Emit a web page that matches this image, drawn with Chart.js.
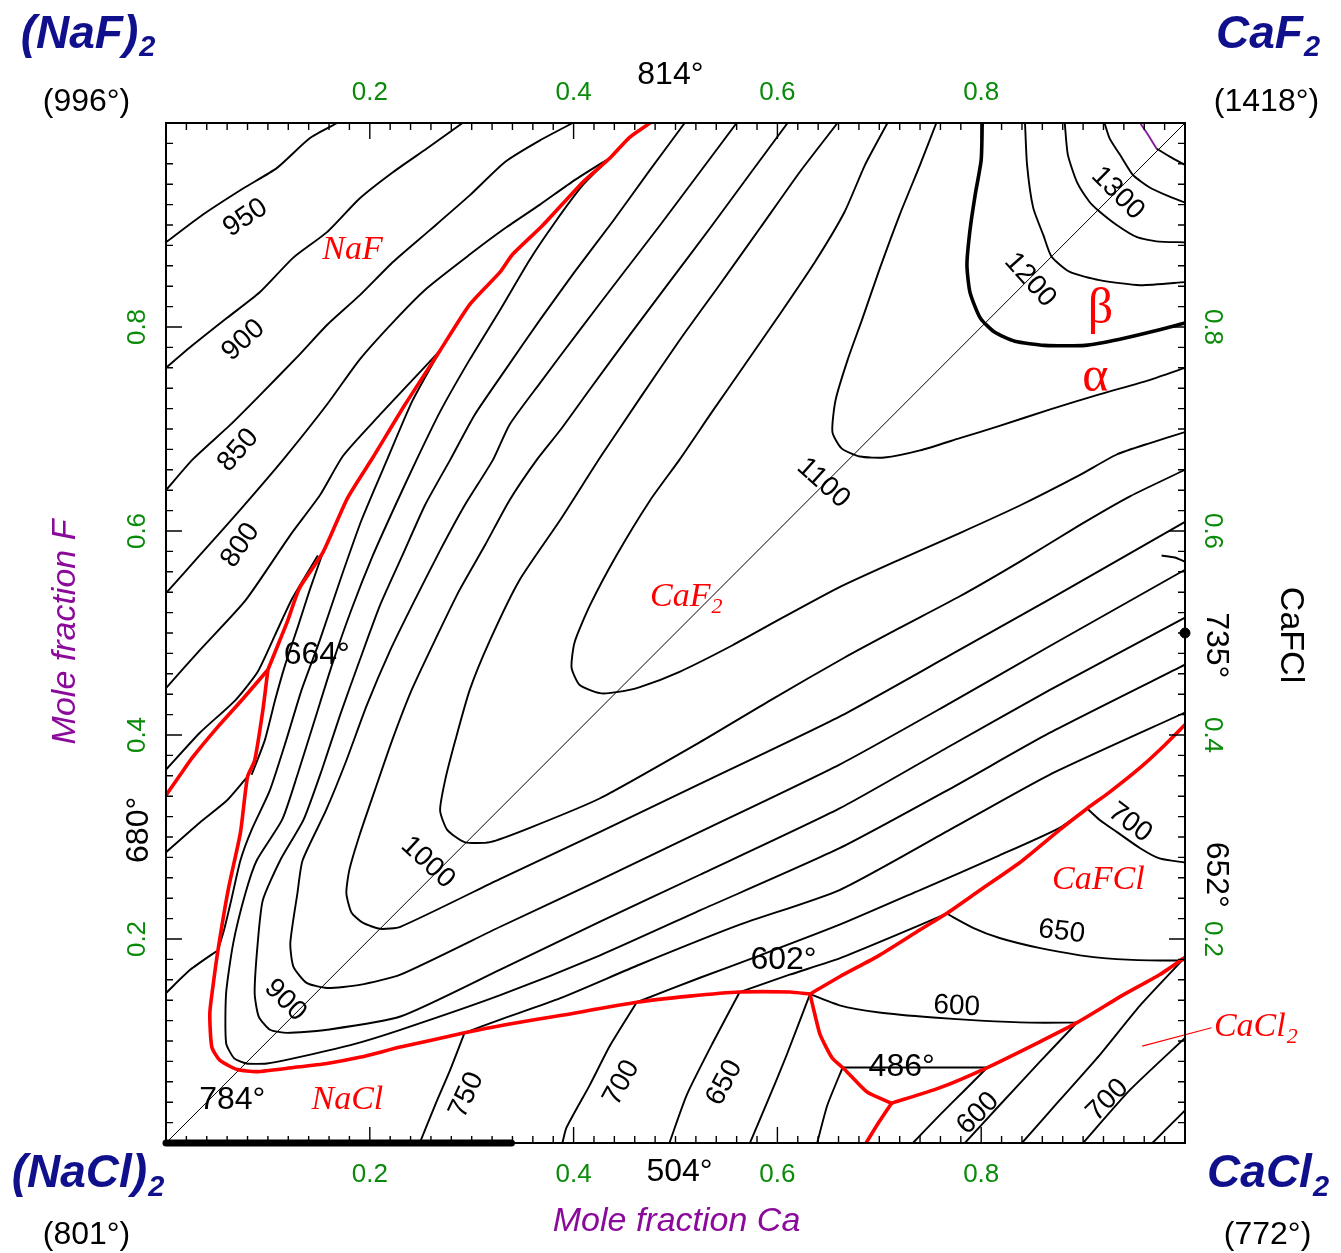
<!DOCTYPE html>
<html>
<head>
<meta charset="utf-8">
<script src="https://cdn.jsdelivr.net/npm/chart.js@4.4.1/dist/chart.umd.min.js"></script>
<style>
  html, body { margin: 0; padding: 0; background: #fff; }
</style>
</head>
<body>
<canvas id="chart" width="1341" height="1253"></canvas>
<script>
// x = mole fraction Ca, y = mole fraction F

const tickValues = [0.2, 0.4, 0.6, 0.8];
const tickLabels = ['0.2', '0.4', '0.6', '0.8'];

const diagonal = [[0, 0], [1, 1]];

// phase boundaries (red)
const bndNaFCaF2 = [[.475,1],[.455,.986],[.436,.966],[.409,.942],[.370,.900],[.340,.871],[.328,.854],[.298,.822],[.269,.777],[.234,.723],[.203,.672],[.178,.632],[.154,.579],[.131,.544],[.119,.511],[.100,.464]];
const bndNaFNaCl = [[.100,.464],[.076,.436],[.050,.407],[.026,.378],[.014,.361],[0,.341]];
const bndNaClCaF2 = [[.100,.464],[.095,.424],[.087,.375],[.080,.359],[.073,.304],[.061,.248],[.051,.189],[.046,.153],[.043,.127],[.045,.094],[.053,.081],[.070,.072],[.089,.070],[.125,.074],[.158,.078],[.190,.084],[.230,.094],[.293,.108],[.333,.116],[.387,.125],[.462,.138],[.514,.144],[.563,.148],[.612,.148],[.632,.146]];
const bndCaF2CaFCl = [[.632,.146],[.661,.163],[.700,.184],[.740,.209],[.766,.225],[.799,.248],[.838,.275],[.877,.307],[.904,.328],[.926,.344],[.956,.368],[.980,.390],[1,.410]];
const bndNaClCaFCl = [[.632,.146],[.637,.125],[.642,.106],[.654,.083],[.664,.074],[.671,.067],[.688,.050],[.712,.039]];
const bndNaClCaCl2 = [[.712,.039],[.700,.021],[.687,0]];
const bndCaFClCaCl2 = [[.712,.039],[.759,.054],[.806,.074],[.857,.099],[.894,.118],[.939,.145],[.975,.165],[1,.182]];
const pointerCaCl2 = [[.958,.095],[1.026,.113]];

// alpha / beta CaF2 transition
const alphaBeta = [[.801,1],[.800,.964],[.794,.929],[.789,.895],[.786,.861],[.789,.834],[.799,.809],[.813,.795],[.833,.786],[.862,.782],[.902,.782],[.936,.788],[.970,.796],[1,.804]];

// CaF2 liquidus isotherms
const iso1350top = [[.956,1],[.964,.988],[.972,.975]];
const iso1350 = [[.972,.975],[.985,.967],[1,.959]];
const iso1300 = [[.921,1],[.926,.985],[.938,.966],[.949,.949],[.965,.937],[.982,.929],[1,.922]];
const iso1250 = [[.882,1],[.885,.969],[.894,.942],[.906,.923],[.914,.915],[.933,.900],[.953,.888],[.972,.884],[1,.883]];
const iso1200 = [[.843,1],[.845,.959],[.851,.917],[.861,.890],[.869,.869],[.887,.854],[.916,.846],[.956,.841],[1,.844]];
const iso1100 = [[.756,1],[.740,.959],[.720,.910],[.700,.856],[.683,.807],[.669,.768],[.657,.728],[.654,.697],[.663,.681],[.681,.673],[.705,.672],[.740,.679],[.779,.691],[.818,.703],[.867,.719],[.916,.734],[.965,.748],[1,.760]];
const iso1050 = [[.708,1],[.686,.959],[.666,.913],[.637,.864],[.602,.812],[.568,.763],[.536,.717],[.504,.670],[.475,.630],[.442,.576],[.416,.527],[.401,.491],[.398,.466],[.406,.449],[.426,.441],[.442,.442],[.465,.447],[.504,.462],[.556,.488],[.605,.515],[.661,.545],[.720,.572],[.779,.598],[.838,.625],[.897,.655],[.933,.675],[.965,.686],[1,.697]];
const iso1000 = [[.659,1],[.622,.952],[.583,.897],[.543,.841],[.504,.787],[.465,.730],[.426,.672],[.387,.611],[.347,.552],[.318,.493],[.298,.444],[.284,.395],[.274,.356],[.269,.326],[.276,.307],[.293,.295],[.318,.295],[.357,.309],[.426,.338],[.524,.393],[.593,.434],[.666,.476],[.720,.505],[.779,.536],[.838,.570],[.897,.606],[.946,.634],[1,.660]];
const iso950 = [[.610,1],[.573,.950],[.534,.897],[.494,.844],[.455,.792],[.416,.739],[.387,.699],[.364,.670],[.337,.630],[.313,.586],[.288,.542],[.264,.493],[.241,.444],[.222,.395],[.205,.346],[.190,.302],[.180,.268],[.177,.245],[.182,.226],[.193,.216],[.210,.210],[.230,.212],[.328,.259],[.426,.305],[.524,.352],[.661,.418],[.769,.478],[.867,.533],[1,.609]];
const iso900 = [[.560,1],[.524,.952],[.485,.900],[.445,.848],[.406,.797],[.367,.745],[.337,.704],[.321,.670],[.293,.625],[.269,.581],[.244,.532],[.220,.483],[.197,.429],[.177,.375],[.157,.326],[.134,.277],[.129,.245],[.122,.196],[.125,.173],[.138,.157],[.158,.152],[.190,.155],[.230,.165],[.328,.212],[.426,.258],[.524,.305],[.661,.371],[.769,.431],[.867,.487],[1,.562]];
const iso850 = [[.509,1],[.475,.954],[.438,.903],[.401,.854],[.367,.807],[.333,.758],[.303,.714],[.279,.670],[.254,.625],[.232,.576],[.210,.527],[.190,.473],[.171,.420],[.153,.366],[.135,.317],[.112,.277],[.095,.238],[.090,.196],[.087,.147],[.091,.124],[.102,.111],[.119,.108],[.158,.111],[.230,.124],[.328,.170],[.426,.217],[.524,.263],[.661,.328],[.769,.389],[.867,.444],[1,.515]];
const iso800 = [[.436,.966],[.409,.939],[.382,.903],[.357,.866],[.328,.817],[.298,.768],[.269,.717],[.246,.670],[.225,.625],[.203,.576],[.182,.523],[.163,.469],[.146,.415],[.129,.361],[.114,.317],[.089,.277],[.078,.245],[.066,.196],[.059,.147],[.059,.098],[.067,.083],[.079,.078],[.099,.078],[.125,.083],[.181,.096],[.230,.111],[.328,.145],[.426,.184],[.524,.228],[.661,.289],[.769,.347],[.867,.402],[1,.469]];
const iso750upper = [[.269,.777],[.242,.728],[.217,.670],[.192,.611],[.171,.552],[.151,.493],[.133,.444],[.118,.395],[.102,.346],[.084,.307],[.073,.277],[.064,.238],[.057,.209],[.051,.189]];
const iso750lower = [[.293,.108],[.328,.121],[.387,.142],[.465,.175],[.563,.214],[.661,.248],[.769,.307],[.867,.361],[1,.422]];
const iso700upper = [[.154,.579],[.141,.542],[.130,.508],[.117,.469],[.107,.434],[.097,.395],[.084,.361]];
const iso700lower = [[.462,.138],[.524,.162],[.583,.184],[.661,.214],[.740,.248],[.818,.282],[.877,.309],[.904,.328]];
const iso650 = [[.563,.148],[.612,.165],[.661,.181],[.710,.201],[.766,.225]];
const isoStub = [[.977,.576],[.990,.574],[1,.570]];

// NaF liquidus isotherms
const naF950 = [[0,.883],[.036,.910],[.076,.936],[.109,.956],[.141,.985],[.168,1]];
const naF900 = [[0,.760],[.026,.782],[.060,.809],[.092,.834],[.125,.868],[.158,.893],[.190,.926],[.223,.952],[.256,.975],[.291,1]];
const naF850 = [[0,.640],[.026,.670],[.063,.704],[.092,.733],[.131,.773],[.158,.802],[.190,.831],[.223,.864],[.259,.895],[.298,.929],[.333,.962],[.367,.983],[.399,1]];
const naF800 = [[0,.539],[.033,.576],[.073,.621],[.115,.670],[.158,.724],[.190,.768],[.225,.807],[.256,.838],[.298,.871],[.333,.897],[.367,.920],[.401,.944],[.436,.966]];
const naF750 = [[0,.446],[.033,.483],[.078,.532],[.122,.596],[.151,.635],[.174,.674],[.210,.714],[.239,.745],[.269,.777]];
const naF700 = [[0,.366],[.033,.402],[.068,.434],[.090,.462],[.107,.498],[.124,.534],[.149,.576]];

// NaCl liquidus isotherms
const naCl700left = [[0,.285],[.033,.314],[.060,.336],[.079,.358]];
const naCl750left = [[0,.147],[.024,.170],[.051,.189]];
const naCl750 = [[.293,.108],[.279,.072],[.264,.037],[.249,0]];
const naCl700 = [[.462,.138],[.436,.096],[.416,.057],[.393,.015],[.389,0]];
const naCl650 = [[.563,.148],[.537,.099],[.511,.047],[.494,0]];
const naCl600 = [[.632,.146],[.609,.086],[.590,.040],[.573,0]];
const naCl500 = [[.664,.074],[.649,.037],[.639,0]];

// CaFCl liquidus isotherms
const caFCl700 = [[.904,.328],[.916,.317],[.933,.305],[.956,.289],[.975,.279],[1,.275]];
const caFCl650 = [[.766,.225],[.792,.211],[.818,.201],[.858,.191],[.897,.184],[.923,.181],[.965,.179],[1,.179]];
const caFCl600 = [[.632,.146],[.661,.135],[.700,.128],[.753,.123],[.799,.120],[.848,.118],[.894,.118]];
const caFCl486 = [[.664,.074],[.806,.074]];

// CaCl2 liquidus isotherms
const caCl2a = [[.733,0],[.759,.027],[.784,.052],[.806,.074]];
const caCl2b = [[.784,0],[.818,.037],[.857,.079],[.894,.118]];
const caCl2c = [[.840,0],[.877,.042],[.916,.086],[.956,.135],[1,.182]];
const caCl2d = [[.900,0],[.946,.052],[1,.103]];
const caCl2e = [[.968,0],[1,.032]];

// solid solution range on the NaCl-CaCl2 edge, CaFCl composition
const solidNaCl = [[0, 0], [.339, 0]];
const caFClPoint = [[1, .5]];

// text
const numLabels = [
  ['950', .078, .907, -34], ['900', .076, .787, -42], ['850', .071, .679, -49], ['800', .073, .586, -56],
  ['1100', .645, .647, 42], ['1000', .257, .275, 43], ['900', .117, .140, 45],
  ['1200', .848, .846, 48], ['1300', .934, .931, 45],
  ['750', .295, .047, -65], ['700', .447, .059, -61], ['650', .548, .059, -62],
  ['600', .797, .029, -45], ['700', .924, .042, -45],
  ['650', .879, .207, 7], ['600', .776, .134, 3], ['700', .946, .314, 37]
];
const degLabels = [
  ['664°', .148, .478, 0], ['784°', .065, .042, 0], ['602°', .606, .179, 0], ['486°', .722, .074, 0],
  ['814°', .495, 1.047, 0], ['504°', .504, -.029, 0],
  ['680°', -.026, .307, -90], ['735°', 1.030, .488, 90], ['652°', 1.030, .263, 90]
];
const phaseLabels = [
  ['NaF', '', .183, .875], ['NaCl', '', .178, .042], ['CaFCl', '', .915, .258],
  ['CaF', '2', .510, .535], ['CaCl', '2', 1.069, .114]
];
const greekLabels = [['β', .917, .817], ['α', .912, .750]];
const cornerLabels = [
  ['(NaF)', '2', -.077, 1.086], ['CaF', '2', 1.081, 1.086],
  ['(NaCl)', '2', -.077, -.031], ['CaCl', '2', 1.081, -.031]
];
const meltLabels = [
  ['(996°)', -.078, 1.020], ['(1418°)', 1.080, 1.020],
  ['(801°)', -.078, -.090], ['(772°)', 1.081, -.090]
];

const SANS = '"Liberation Sans", Arial, sans-serif';
const SERIF = '"Liberation Serif", "Times New Roman", serif';
const RED = '#ff0000';
const GREEN = '#0a8a0a';
const PURPLE = '#8a0a9a';
const NAVY = '#10108c';

const pts = a => a.map(p => ({ x: p[0], y: p[1] }));
function line(data, color, width, extra) {
  return Object.assign({
    data: pts(data), borderColor: color, borderWidth: width, showLine: true,
    pointRadius: 0, fill: false, tension: 0.2
  }, extra || {});
}

const redLines = [bndNaFCaF2, bndNaFNaCl, bndNaClCaF2, bndCaF2CaFCl, bndNaClCaFCl, bndNaClCaCl2, bndCaFClCaCl2];
const blackLines = [iso1350, iso1300, iso1250, iso1200, iso1100, iso1050, iso1000, iso950, iso900, iso850, iso800,
  iso750upper, iso750lower, iso700upper, iso700lower, iso650, isoStub,
  naF950, naF900, naF850, naF800, naF750, naF700,
  naCl700left, naCl750left, naCl750, naCl700, naCl650, naCl600, naCl500,
  caFCl700, caFCl650, caFCl600, caFCl486, caCl2a, caCl2b, caCl2c, caCl2d, caCl2e];

const datasets = [];
redLines.forEach(d => datasets.push(line(d, RED, 3.6)));
datasets.push(line(pointerCaCl2, RED, 1.1, { clip: false, tension: 0 }));
datasets.push(line(alphaBeta, '#000', 3.6));
datasets.push(line(solidNaCl, '#000', 7, { borderCapStyle: 'round', tension: 0, clip: false }));
blackLines.forEach(d => datasets.push(line(d, '#000', 1.9)));
datasets.push(line(iso1350top, '#8a1aa0', 1.9));
datasets.push(line(diagonal, '#000', 1, { tension: 0 }));
datasets.push({ data: pts(caFClPoint), pointRadius: 5, pointBackgroundColor: '#000', pointBorderColor: '#000', showLine: false, clip: false });

function drawText(ctx, s, px, py, font, color, rot) {
  ctx.save();
  ctx.translate(px, py);
  ctx.rotate((rot || 0) * Math.PI / 180);
  ctx.font = font;
  ctx.fillStyle = color;
  ctx.textAlign = 'center';
  ctx.textBaseline = 'middle';
  ctx.fillText(s, 0, 0);
  ctx.restore();
}

function drawSub(ctx, s, sub, px, py, font, subFont, color, dy) {
  ctx.save();
  ctx.font = font;
  const w1 = ctx.measureText(s).width;
  ctx.font = subFont;
  const w2 = sub ? ctx.measureText(sub).width : 0;
  const x0 = px - (w1 + w2) / 2;
  ctx.fillStyle = color;
  ctx.textAlign = 'left';
  ctx.textBaseline = 'middle';
  ctx.font = font;
  ctx.fillText(s, x0, py);
  if (sub) {
    ctx.font = subFont;
    ctx.fillText(sub, x0 + w1 + 1, py + dy);
  }
  ctx.restore();
}

const decorations = {
  id: 'decorations',
  afterDatasetsDraw(chart) {
    const { ctx, chartArea: a, scales: { x, y } } = chart;
    ctx.save();
    // frame and inward ticks
    ctx.strokeStyle = '#000';
    ctx.lineWidth = 2;
    ctx.strokeRect(a.left, a.top, a.right - a.left, a.bottom - a.top);
    ctx.lineWidth = 1.4;
    ctx.beginPath();
    for (let i = 1; i < 50; i++) {
      const v = i / 50;
      const len = i % 10 === 0 ? 16 : 7;
      const px = x.getPixelForValue(v), py = y.getPixelForValue(v);
      ctx.moveTo(px, a.bottom); ctx.lineTo(px, a.bottom - len);
      ctx.moveTo(px, a.top); ctx.lineTo(px, a.top + len);
      ctx.moveTo(a.left, py); ctx.lineTo(a.left + len, py);
      ctx.moveTo(a.right, py); ctx.lineTo(a.right - len, py);
    }
    ctx.stroke();
    ctx.restore();

    // tick labels
    const tickFont = '26px ' + SANS;
    tickValues.forEach((v, i) => {
      drawText(ctx, tickLabels[i], x.getPixelForValue(v), y.getPixelForValue(1.030), tickFont, GREEN, 0);
      drawText(ctx, tickLabels[i], x.getPixelForValue(v), y.getPixelForValue(-0.031), tickFont, GREEN, 0);
      drawText(ctx, tickLabels[i], x.getPixelForValue(-0.028), y.getPixelForValue(v), tickFont, GREEN, -90);
      drawText(ctx, tickLabels[i], x.getPixelForValue(1.027), y.getPixelForValue(v), tickFont, GREEN, 90);
    });

    const P = (vx, vy) => [x.getPixelForValue(vx), y.getPixelForValue(vy)];
    numLabels.forEach(l => { const [px, py] = P(l[1], l[2]); drawText(ctx, l[0], px, py, '28px ' + SANS, '#000', l[3]); });
    degLabels.forEach(l => { const [px, py] = P(l[1], l[2]); drawText(ctx, l[0], px, py, '32px ' + SANS, '#000', l[3]); });
    phaseLabels.forEach(l => { const [px, py] = P(l[2], l[3]); drawSub(ctx, l[0], l[1], px, py, 'italic 34px ' + SERIF, 'italic 22px ' + SERIF, RED, 10); });
    greekLabels.forEach(l => { const [px, py] = P(l[1], l[2]); drawText(ctx, l[0], px, py, '50px ' + SERIF, RED, 0); });
    cornerLabels.forEach(l => { const [px, py] = P(l[2], l[3]); drawSub(ctx, l[0], l[1], px, py, 'bold italic 46px ' + SANS, 'bold italic 29px ' + SANS, NAVY, 13); });
    meltLabels.forEach(l => { const [px, py] = P(l[1], l[2]); drawText(ctx, l[0], px, py, '32px ' + SANS, '#000', 0); });

    let [px, py] = P(0.501, -0.077);
    drawText(ctx, 'Mole fraction Ca', px, py, 'italic 34px ' + SANS, PURPLE, 0);
    [px, py] = P(-0.099, 0.501);
    drawText(ctx, 'Mole fraction F', px, py, 'italic 34px ' + SANS, PURPLE, -90);
    [px, py] = P(1.103, 0.498);
    drawText(ctx, 'CaFCl', px, py, '34px ' + SANS, '#000', 90);
  }
};

new Chart(document.getElementById('chart'), {
  type: 'scatter',
  data: { datasets },
  options: {
    responsive: false,
    animation: false,
    devicePixelRatio: 1,
    events: [],
    layout: { padding: { left: 166, right: 156, top: 123, bottom: 110 } },
    plugins: { legend: { display: false }, tooltip: { enabled: false } },
    scales: {
      x: { type: 'linear', min: 0, max: 1, display: false },
      y: { type: 'linear', min: 0, max: 1, display: false }
    }
  },
  plugins: [decorations]
});
</script>
</body>
</html>
